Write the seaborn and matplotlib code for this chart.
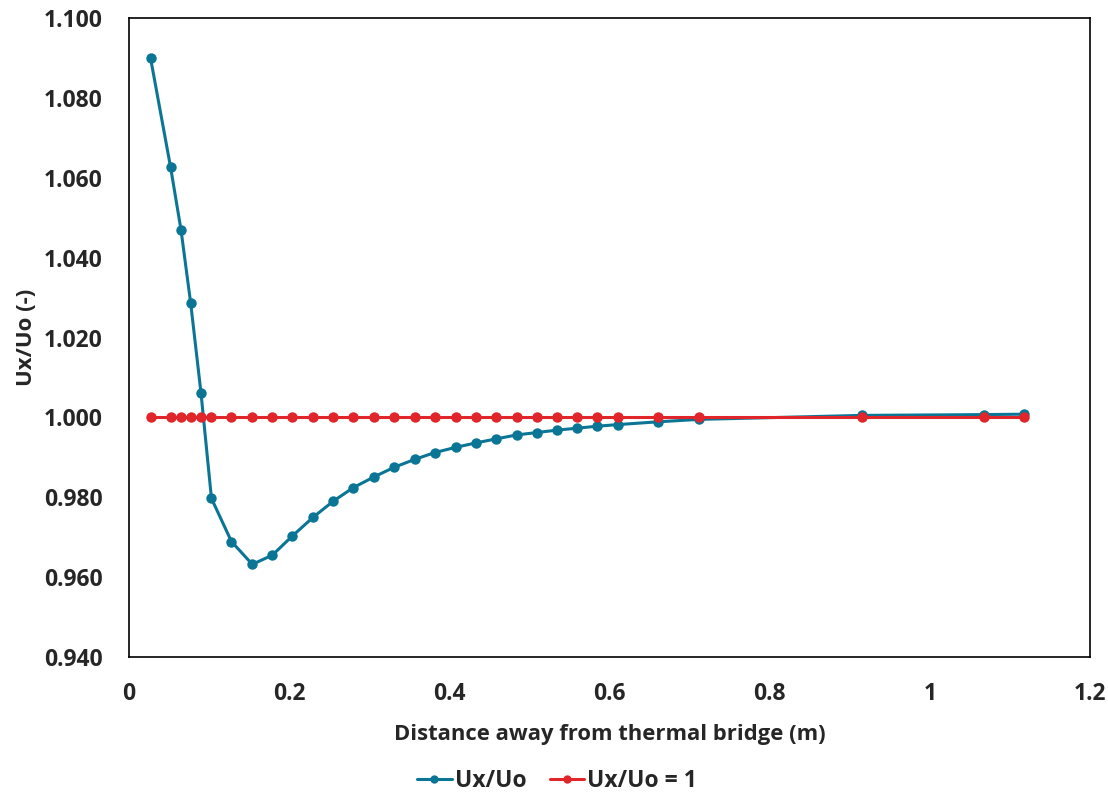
import matplotlib
matplotlib.use("Agg")
import matplotlib.pyplot as plt
import seaborn as sns
import pandas as pd
from matplotlib.ticker import FormatStrFormatter

# distance from the thermal bridge (m)
distance = [0.027, 0.052, 0.065, 0.077, 0.090, 0.103, 0.128, 0.154, 0.179, 0.204,
            0.230, 0.255, 0.280, 0.306, 0.331, 0.357, 0.382, 0.408, 0.433, 0.458,
            0.484, 0.509, 0.534, 0.560, 0.585, 0.611, 0.661, 0.712, 0.915, 1.067, 1.118]

# Ux/Uo ratio
ratio = [1.0899, 1.0626, 1.0469, 1.0287, 1.0060, 0.9797, 0.9689, 0.9632, 0.9655, 0.9703,
         0.9750, 0.9790, 0.9824, 0.9851, 0.9875, 0.9895, 0.9912, 0.9925, 0.9936, 0.9946,
         0.9956, 0.9962, 0.9968, 0.9973, 0.9978, 0.9982, 0.9989, 0.9995, 1.0005, 1.0007, 1.0008]

reference = [1.0] * len(distance)

series_names = ["Ux/Uo", "Ux/Uo = 1"]
colors = ["#0B7596", "#E0262A"]

df = pd.DataFrame({
    "distance": distance * 2,
    "value": ratio + reference,
    "series": [series_names[0]] * len(distance) + [series_names[1]] * len(distance),
})

sns.set_style("white")
plt.rcParams['font.family'] = ['Open Sans', 'DejaVu Sans']
plt.rcParams['font.weight'] = 'bold'

fig = plt.figure(figsize=(11.08, 7.98), dpi=100)
ax = fig.add_axes([0.1164, 0.1767, 0.8674, 0.8007])

sns.lineplot(data=df, x="distance", y="value", hue="series",
             palette=dict(zip(series_names, colors)), hue_order=series_names,
             marker="o", markersize=7.5, markeredgewidth=0, linewidth=2.2,
             sort=False, ax=ax)

ax.set_xlim(0, 1.2)
ax.set_ylim(0.94, 1.10)
ax.set_xticks([0, 0.2, 0.4, 0.6, 0.8, 1.0, 1.2])
ax.set_xticklabels(["0", "0.2", "0.4", "0.6", "0.8", "1", "1.2"])
ax.set_yticks([0.94, 0.96, 0.98, 1.00, 1.02, 1.04, 1.06, 1.08, 1.10])
ax.yaxis.set_major_formatter(FormatStrFormatter("%.3f"))
ax.tick_params(axis="both", length=0, labelsize=16.5)
ax.tick_params(axis="y", pad=19)
ax.tick_params(axis="x", pad=18)
for lab in ax.get_xticklabels() + ax.get_yticklabels():
    lab.set_fontweight("bold")

for s in ax.spines.values():
    s.set_visible(True)
    s.set_color("black")
    s.set_linewidth(1.2)

ax.set_xlabel("Distance away from thermal bridge (m)", fontsize=15.8, fontweight="bold", labelpad=13)
ax.set_ylabel("Ux/Uo (-)", fontsize=16, fontweight="bold", labelpad=5)

# legend is centred on the figure, not on the axes
handles, labels = ax.get_legend_handles_labels()
ax.get_legend().remove()
fig.legend(handles, labels, loc="lower center", bbox_to_anchor=(0.503, -0.02), ncol=2,
           frameon=False, handlelength=1.5, handletextpad=0.15,
           columnspacing=1.0, markerscale=0.8,
           prop={"weight": "bold", "size": 16.5})

fig.savefig("out.png", dpi=100)
